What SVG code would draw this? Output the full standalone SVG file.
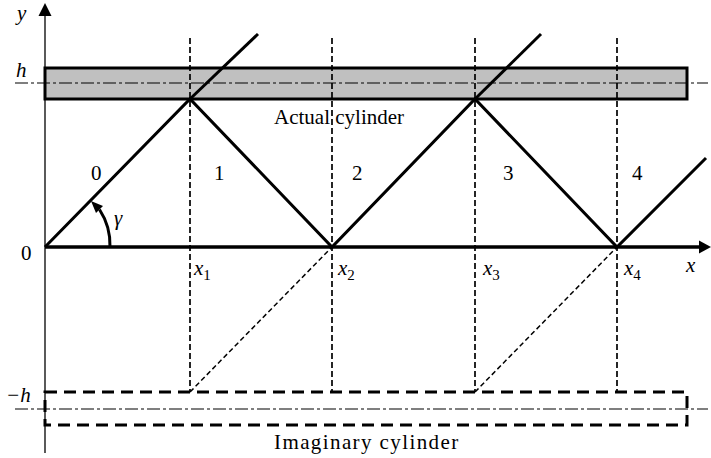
<svg xmlns="http://www.w3.org/2000/svg" width="711" height="458" viewBox="0 0 711 458">
<style>
text{font-family:"Liberation Serif","DejaVu Serif",serif;font-size:21px;fill:#000}
.it{font-style:italic}
.sub{font-size:15px;font-style:normal}
.thick{stroke:#000;stroke-width:3;fill:none}
.axis{stroke:#000;stroke-width:3.5;fill:none}
.thin{stroke:#000;stroke-width:1.3;fill:none}
.vdash{stroke:#000;stroke-width:1.7;stroke-dasharray:6 3;fill:none}
.ddash{stroke:#000;stroke-width:1.5;stroke-dasharray:5 3;fill:none}
.center{stroke:#000;stroke-width:1.2;stroke-dasharray:13 3 3 3;fill:none}
</style>
<rect width="711" height="458" fill="#fff"/>
<g id="actual-cylinder">
<rect x="45" y="68" width="642" height="31" fill="#c0c0c0" stroke="#000" stroke-width="3"/>
<line class="center" x1="15" y1="83" x2="708" y2="83"/>
<text x="274" y="124">Actual cylinder</text>
</g>
<g id="imaginary-cylinder">
<rect x="45" y="392" width="642" height="33" fill="none" stroke="#000" stroke-width="3" stroke-dasharray="12 7"/>
<line class="center" x1="15" y1="409" x2="708" y2="409"/>
<text x="274" y="449" letter-spacing="1.4">Imaginary cylinder</text>
</g>
<g id="axes">
<line class="thin" x1="45" y1="12" x2="45" y2="453"/>
<polygon points="45,3 38.5,16 51.5,16"/>
<line class="axis" x1="45" y1="247" x2="702" y2="247"/>
<polygon points="711,247 699,240.5 699,253.5"/>
<text class="it" x="17" y="20">y</text>
<text class="it" x="16" y="77">h</text>
<text x="21" y="260">0</text>
<text class="it" x="6" y="402">−h</text>
<text class="it" x="686" y="272">x</text>
</g>
<g id="connectors">
<line class="vdash" x1="190" y1="38" x2="190" y2="392"/>
<line class="vdash" x1="332" y1="38" x2="332" y2="392"/>
<line class="vdash" x1="475" y1="38" x2="475" y2="392"/>
<line class="vdash" x1="617" y1="38" x2="617" y2="392"/>
<line class="ddash" x1="190" y1="392" x2="332" y2="247"/>
<line class="ddash" x1="475" y1="392" x2="617" y2="247"/>
<polyline class="thick" points="45,247 190,99 332,247 475,99 617,247 706,158"/>
<line class="thick" x1="190" y1="99" x2="258" y2="34"/>
<line class="thick" x1="475" y1="99" x2="541" y2="34"/>
<path class="thick" stroke-width="2.2" d="M110,247 A65,65 0 0 0 99.5,209.5"/>
<polygon points="91,201 103,206 96,213"/>
</g>
<g id="labels">
<text x="91" y="180">0</text>
<text x="214" y="180">1</text>
<text x="352" y="180">2</text>
<text x="503" y="180">3</text>
<text x="632" y="180">4</text>
<text class="it" x="114" y="225" font-size="19">γ</text>
<text class="it" x="194" y="275">x<tspan class="sub" dy="5">1</tspan></text>
<text class="it" x="338" y="275">x<tspan class="sub" dy="5">2</tspan></text>
<text class="it" x="483" y="275">x<tspan class="sub" dy="5">3</tspan></text>
<text class="it" x="624" y="275">x<tspan class="sub" dy="5">4</tspan></text>
</g>
</svg>
